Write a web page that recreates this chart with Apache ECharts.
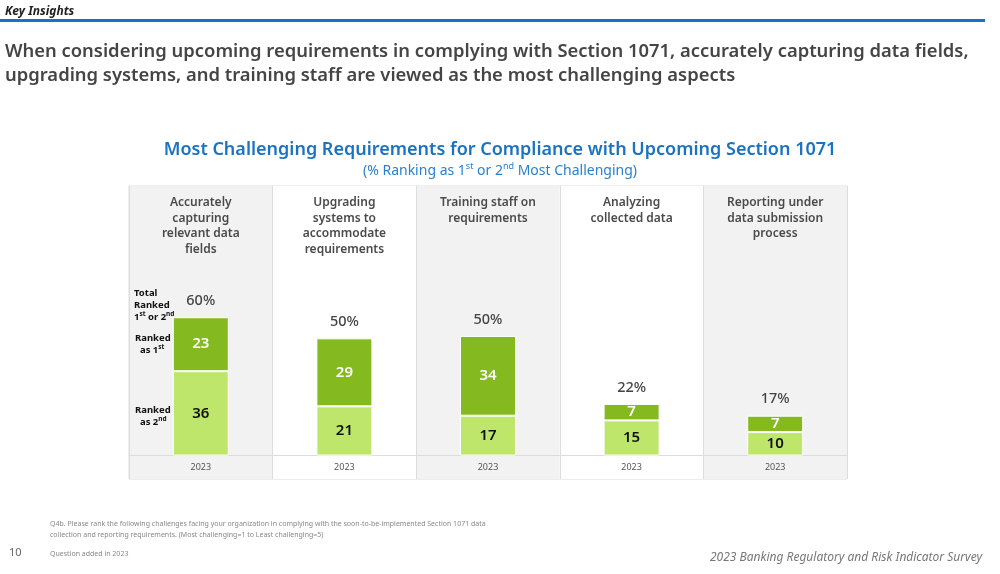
<!DOCTYPE html>
<html>
<head>
<meta charset="utf-8">
<script src="https://cdn.jsdelivr.net/npm/echarts@6/dist/echarts.min.js"></script>
<style>
  html, body { margin: 0; padding: 0; background: #fff; }
  #chart { width: 1000px; height: 574px; }
</style>
</head>
<body>
<div id="chart"></div>
<script>
// ---- data ----
const categories = [
  'Accurately\ncapturing\nrelevant data\nfields',
  'Upgrading\nsystems to\naccommodate\nrequirements',
  'Training staff on\nrequirements',
  'Analyzing\ncollected data',
  'Reporting under\ndata submission\nprocess'
];
const yearLabels = ['2023', '2023', '2023', '2023', '2023'];
const rankedFirst = [23, 29, 34, 7, 7];
const rankedSecond = [36, 21, 17, 15, 10];
const totals = [60, 50, 50, 22, 17];
const totalPlaceholder = [0, 0, 0, 0, 0];

const FONT = '"Noto Sans", "Open Sans", sans-serif';
const DARK = '#84b91f';
const LIGHT = '#bde66b';

const chart = echarts.init(document.getElementById('chart'));

const supRich = {
  n: { fontFamily: FONT, fontSize: 9.5, fontWeight: 'bold', fill: '#111', lineHeight: 12 },
  s: { fontFamily: FONT, fontSize: 6.5, fontWeight: 'bold', fill: '#111', verticalAlign: 'top', lineHeight: 12, padding: [0, 0, 3, 0] }
};

const option = {
  backgroundColor: '#ffffff',
  animation: false,
  title: [
    { text: 'Key Insights', left: 0, top: 1,
      textStyle: { fontFamily: FONT, fontSize: 12, fontStyle: 'italic', fontWeight: 'bold', color: '#222' } },
    { text: 'When considering upcoming requirements in complying with Section 1071, accurately capturing data fields,\nupgrading systems, and training staff are viewed as the most challenging aspects',
      left: 0, top: 35,
      textStyle: { fontFamily: FONT, fontSize: 18.4, fontWeight: 600, color: '#454545', lineHeight: 24 } },
    { text: 'Most Challenging Requirements for Compliance with Upcoming Section 1071',
      left: 'center', top: 136,
      textStyle: { fontFamily: FONT, fontSize: 18, fontWeight: 600, color: '#1a73c2' } },
    { text: '{a|(% Ranking as 1}{s|st}{a| or 2}{s|nd}{a| Most Challenging)}',
      left: 'center', top: 157,
      textStyle: { fontFamily: FONT, fontSize: 14, fontWeight: 'normal', color: '#2a80cc',
        rich: {
          a: { fontFamily: FONT, fontSize: 14, fontWeight: 'normal', color: '#2a80cc', lineHeight: 18 },
          s: { fontFamily: FONT, fontSize: 9, fontWeight: 'normal', color: '#2a80cc', verticalAlign: 'top', lineHeight: 18, padding: [0, 0, 5, 0] }
        } } }
  ],
  grid: { left: 129, right: 153, top: 186, bottom: 95, show: true, borderColor: '#dcdcdc', borderWidth: 1, backgroundColor: 'transparent' },
  xAxis: [
    {
      type: 'category', data: yearLabels, position: 'bottom',
      axisLine: { show: true, onZero: true, lineStyle: { color: '#dcdcdc', width: 1 } },
      axisTick: { show: false },
      axisLabel: { inside: true, fontFamily: FONT, fontSize: 9, color: '#555', margin: 7, interval: 0 },
      splitArea: { show: true, interval: 0, areaStyle: { color: ['#f2f2f2', '#ffffff'] } },
      splitLine: { show: true, interval: 0, lineStyle: { color: '#dcdcdc', width: 1 } }
    },
    {
      type: 'category', data: categories, position: 'top',
      axisLine: { show: false, onZero: false },
      axisTick: { show: false },
      axisLabel: { inside: true, interval: 0, margin: 9, verticalAlign: 'top', fontFamily: FONT, fontSize: 12, fontWeight: 600, color: '#4a4a4a', lineHeight: 15.5 },
      splitLine: { show: false }
    }
  ],
  yAxis: { type: 'value', min: -10, max: 115, show: false, splitLine: { show: false } },
  series: [
    {
      name: 'Ranked as 2nd', type: 'bar', stack: 'rank', data: rankedSecond, barWidth: 56,
      itemStyle: { color: LIGHT, borderColor: '#ffffff', borderWidth: 1 },
      label: { show: true, position: 'inside', fontFamily: FONT, fontSize: 15, fontWeight: 600, color: '#111' }
    },
    {
      name: 'Ranked as 1st', type: 'bar', stack: 'rank', data: rankedFirst, barWidth: 56,
      itemStyle: { color: DARK, borderColor: '#ffffff', borderWidth: 1 },
      label: { show: true, position: 'inside', fontFamily: FONT, fontSize: 15, fontWeight: 600, color: '#ffffff' }
    },
    {
      name: 'Total', type: 'bar', stack: 'rank', data: totalPlaceholder, barWidth: 56,
      itemStyle: { color: 'transparent' },
      label: { show: true, position: 'top', distance: 9, fontFamily: FONT, fontSize: 14.5, fontWeight: 500, color: '#444',
        formatter: p => totals[p.dataIndex] + '%' }
    }
  ],
  graphic: [
    { type: 'rect', left: 0, top: 19, shape: { width: 985, height: 3 }, style: { fill: '#1a73c2' } },
    { type: 'text', left: 134, top: 288, z: 100, style: { rich: supRich, text: '{n|Total}\n{n|Ranked}\n{n|1}{s|st}{n| or 2}{s|nd}', fontFamily: FONT, fill: '#111' } },
    { type: 'text', left: 135, top: 333, z: 100, style: { rich: supRich, text: '{n|Ranked}\n{n|  as 1}{s|st}', fontFamily: FONT, fill: '#111' } },
    { type: 'text', left: 135, top: 405, z: 100, style: { rich: supRich, text: '{n|Ranked}\n{n|  as 2}{s|nd}', fontFamily: FONT, fill: '#111' } },
    { type: 'text', left: 50, top: 518, style: { text: 'Q4b. Please rank the following challenges facing your organization in complying with the soon-to-be-implemented Section 1071 data\ncollection and reporting requirements. (Most challenging=1 to Least challenging=5)', fontFamily: FONT, fontSize: 7, lineHeight: 11, fill: '#888' } },
    { type: 'text', left: 50, top: 550, style: { text: 'Question added in 2023', fontFamily: FONT, fontSize: 7, fill: '#888' } },
    { type: 'text', left: 9, top: 547, style: { text: '10', fontFamily: FONT, fontSize: 11, fill: '#666' } },
    { type: 'text', right: 18, top: 552, style: { text: '2023 Banking Regulatory and Risk Indicator Survey', fontFamily: FONT, fontSize: 12, fontStyle: 'italic', fill: '#777' } }
  ]
};

chart.setOption(option);
</script>
</body>
</html>
